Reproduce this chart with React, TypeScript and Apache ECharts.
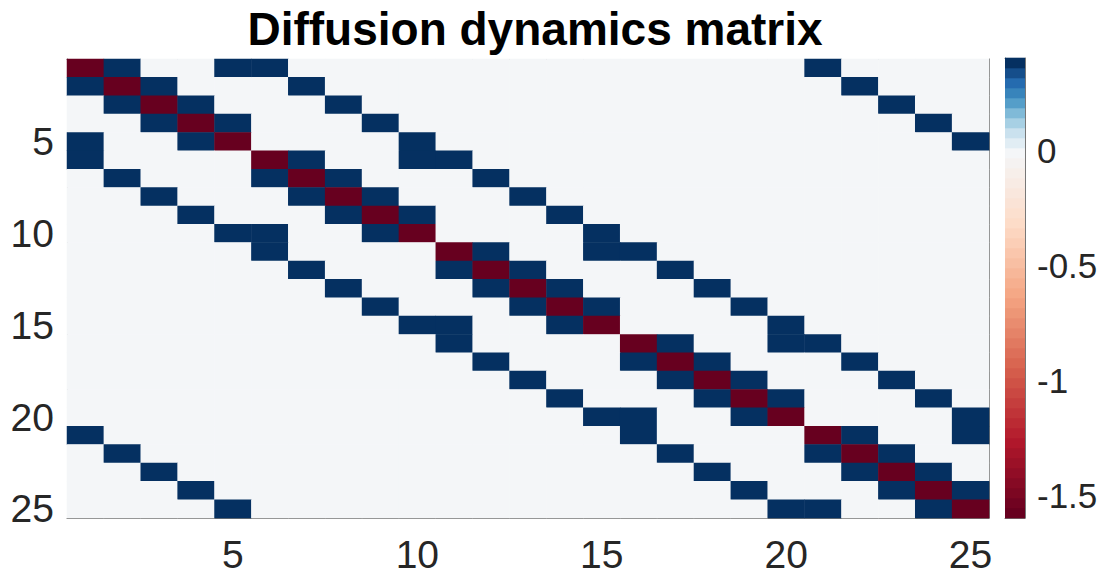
import React, { useEffect, useRef } from "react";
import * as echarts from "echarts";

// Node labels along both axes (state index of the 5x5 periodic lattice)
const nodeLabels = [
  "1", "2", "3", "4", "5", "6", "7", "8", "9", "10",
  "11", "12", "13", "14", "15", "16", "17", "18", "19", "20",
  "21", "22", "23", "24", "25",
];
const labelledNodes = ["5", "10", "15", "20", "25"];

// Self-decay on the diagonal and coupling strength to each neighbour
const diagonalValue = -1.6;
const couplingValue = 0.4;

// Columns (1-based) holding the coupling value in each row
const couplingColumns: number[][] = [
  [2, 5, 6, 21],
  [1, 3, 7, 22],
  [2, 4, 8, 23],
  [3, 5, 9, 24],
  [1, 4, 10, 25],
  [1, 7, 10, 11],
  [2, 6, 8, 12],
  [3, 7, 9, 13],
  [4, 8, 10, 14],
  [5, 6, 9, 15],
  [6, 12, 15, 16],
  [7, 11, 13, 17],
  [8, 12, 14, 18],
  [9, 13, 15, 19],
  [10, 11, 14, 20],
  [11, 17, 20, 21],
  [12, 16, 18, 22],
  [13, 17, 19, 23],
  [14, 18, 20, 24],
  [15, 16, 19, 25],
  [1, 16, 22, 25],
  [2, 17, 21, 23],
  [3, 18, 22, 24],
  [4, 19, 23, 25],
  [5, 20, 21, 24],
];

// Colour scale
const colorRange = [-1.6, 0.4];
const colorbarTicks = [-1.5, -1, -0.5, 0];
const colorLevels = 46;
const negativeStops = ["#f4f6f8", "#fddbc7", "#f4a582", "#d6604d", "#b2182b", "#67001f"];
const positiveStops = ["#f4f6f8", "#d1e5f0", "#92c5de", "#4393c3", "#2166ac", "#053061"];

const FONT = "'Liberation Sans', Arial, Helvetica, sans-serif";
const AXIS_COLOR = "#777777";
const TEXT_COLOR = "#262626";

function hexToRgb(h: string): number[] {
  const n = parseInt(h.slice(1), 16);
  return [(n >> 16) & 255, (n >> 8) & 255, n & 255];
}

function sampleStops(stops: string[], t: number): string {
  const tt = Math.max(0, Math.min(1, t)) * (stops.length - 1);
  const i = Math.min(stops.length - 2, Math.floor(tt));
  const f = tt - i;
  const a = hexToRgb(stops[i]);
  const b = hexToRgb(stops[i + 1]);
  const c = a.map((v, k) => Math.round(v + (b[k] - v) * f));
  return `rgb(${c[0]},${c[1]},${c[2]})`;
}

// Diverging map with white at zero
function divergingColor(v: number): string {
  if (v < 0) return sampleStops(negativeStops, v / colorRange[0]);
  return sampleStops(positiveStops, v / colorRange[1]);
}

type Band = { lo: number; hi: number; color: string };

// Evenly spaced colour levels: the first level takes the minimum's colour,
// the last one the maximum's colour.
function buildBands(): Band[] {
  const [lo, hi] = colorRange;
  const step = (hi - lo) / colorLevels;
  const bands: Band[] = [];
  for (let k = 0; k < colorLevels; k++) {
    const a = lo + k * step;
    const b = k === colorLevels - 1 ? hi : lo + (k + 1) * step;
    const sampleAt = lo + ((hi - lo) * k) / (colorLevels - 1);
    bands.push({ lo: a, hi: b, color: divergingColor(sampleAt) });
  }
  return bands;
}

function buildCells(): number[][] {
  const cells: number[][] = [];
  for (let r = 0; r < nodeLabels.length; r++) {
    for (let c = 0; c < nodeLabels.length; c++) {
      let v = 0;
      if (r === c) v = diagonalValue;
      else if (couplingColumns[r].includes(c + 1)) v = couplingValue;
      cells.push([c, r, v]);
    }
  }
  return cells;
}

const showEvery = (_i: number, value: string) => labelledNodes.includes(value);

export default function App() {
  const ref = useRef<HTMLDivElement>(null);

  useEffect(() => {
    if (!ref.current) return;
    const chart = echarts.init(ref.current, undefined, { renderer: "svg" });
    const bands = buildBands();

    const mainGrid = { left: 67, top: 59, width: 922, height: 459 };
    const barGrid = { left: 1005, top: 58, width: 20, height: 460 };

    const hiddenCategoryAxis = (position: string, gridIndex: number) => ({
      type: "category",
      gridIndex,
      position,
      data: nodeLabels,
      axisLine: { show: true, lineStyle: { color: AXIS_COLOR, width: 1 } },
      axisTick: { show: true, inside: true, length: 9, alignWithLabel: true, interval: showEvery, lineStyle: { color: AXIS_COLOR } },
      axisLabel: { show: false },
      splitLine: { show: false },
    });

    const lineOnlyValueAxis = (position: string, min: number, max: number) => ({
      type: "value",
      gridIndex: 1,
      position,
      min,
      max,
      axisLine: { show: true, onZero: false, lineStyle: { color: AXIS_COLOR, width: 1 } },
      axisTick: { show: false },
      axisLabel: { show: false },
      splitLine: { show: false },
    });

    chart.setOption({
      animation: false,
      backgroundColor: "#ffffff",
      title: {
        text: "Diffusion dynamics matrix",
        left: 530,
        textAlign: "center",
        top: 1,
        textStyle: { fontFamily: FONT, fontSize: 46, fontWeight: "bold", color: "#000000" },
      },
      grid: [
        { ...mainGrid, containLabel: false },
        { ...barGrid, containLabel: false },
      ],
      xAxis: [
        {
          type: "category",
          gridIndex: 0,
          position: "bottom",
          data: nodeLabels,
          axisLine: { show: true, lineStyle: { color: AXIS_COLOR, width: 1 } },
          axisTick: { show: true, inside: true, length: 9, alignWithLabel: true, interval: showEvery, lineStyle: { color: AXIS_COLOR } },
          axisLabel: { interval: showEvery, fontFamily: FONT, fontSize: 39, color: TEXT_COLOR, margin: 17 },
          splitLine: { show: false },
        },
        hiddenCategoryAxis("top", 0),
        lineOnlyValueAxis("bottom", 0, 1),
        lineOnlyValueAxis("top", 0, 1),
      ],
      yAxis: [
        {
          type: "category",
          gridIndex: 0,
          position: "left",
          inverse: true,
          data: nodeLabels,
          axisLine: { show: true, lineStyle: { color: AXIS_COLOR, width: 1 } },
          axisTick: { show: true, inside: true, length: 9, alignWithLabel: true, interval: showEvery, lineStyle: { color: AXIS_COLOR } },
          axisLabel: { interval: showEvery, fontFamily: FONT, fontSize: 39, color: TEXT_COLOR, margin: 13 },
          splitLine: { show: false },
        },
        { ...hiddenCategoryAxis("right", 0), inverse: true },
        {
          type: "value",
          gridIndex: 1,
          position: "right",
          min: colorRange[0],
          max: colorRange[1],
          axisLine: { show: true, onZero: false, lineStyle: { color: AXIS_COLOR, width: 1 } },
          axisTick: { show: true, inside: true, length: 4, customValues: colorbarTicks, lineStyle: { color: AXIS_COLOR } },
          axisLabel: { customValues: colorbarTicks, fontFamily: FONT, fontSize: 35, color: TEXT_COLOR, margin: 12 },
          splitLine: { show: false },
        },
        lineOnlyValueAxis("left", colorRange[0], colorRange[1]),
      ],
      visualMap: {
        type: "piecewise",
        show: false,
        seriesIndex: 0,
        dimension: 2,
        pieces: bands.map((b, k) =>
          k === bands.length - 1
            ? { gte: b.lo, lte: b.hi, color: b.color }
            : { gte: b.lo, lt: b.hi, color: b.color }
        ),
      },
      series: [
        {
          type: "heatmap",
          xAxisIndex: 0,
          yAxisIndex: 0,
          data: buildCells(),
          itemStyle: { borderWidth: 0 },
          emphasis: { disabled: true },
          z: 1,
        },
        {
          type: "custom",
          xAxisIndex: 2,
          yAxisIndex: 2,
          silent: true,
          z: 1,
          encode: { y: [0, 1] },
          data: bands.map((b) => [b.lo, b.hi]),
          renderItem: (params: any, api: any) => {
            const top = api.coord([0, api.value(1)]);
            const bottom = api.coord([1, api.value(0)]);
            return {
              type: "rect",
              shape: {
                x: top[0],
                y: top[1] - 0.3,
                width: bottom[0] - top[0],
                height: bottom[1] - top[1] + 0.6,
              },
              style: { fill: bands[params.dataIndex].color },
            };
          },
        },
      ],
    });

    return () => chart.dispose();
  }, []);

  return (
    <div
      ref={ref}
      style={{ position: "absolute", left: 0, top: 0, width: 1109, height: 581 }}
    />
  );
}
